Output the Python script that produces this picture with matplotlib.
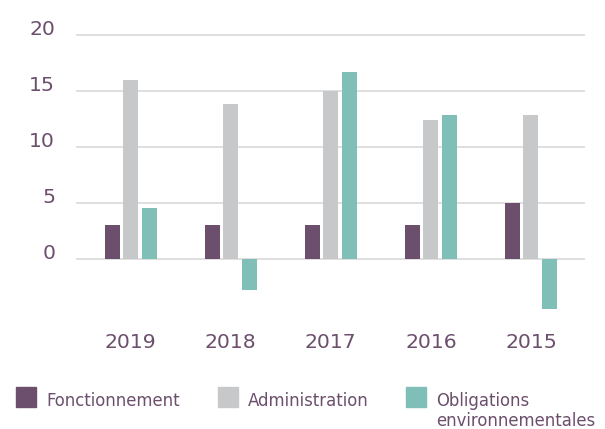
import numpy as np
import matplotlib.pyplot as plt
from matplotlib.patches import Rectangle

plt.rcParams['font.family'] = ['DejaVu Sans']

# data
years = ['2019', '2018', '2017', '2016', '2015']
fonctionnement = [3, 3, 3, 3, 5]
administration = [16, 13.8, 15, 12.4, 12.8]
obligations = [4.5, -2.8, 16.7, 12.8, -4.5]

series_names = ['Fonctionnement', 'Administration', 'Obligations\nenvironnementales']
colors = ['#6b4f6c', '#c7c8ca', '#80bfb7']
text_color = '#6b4f6c'

W, H = 605, 429
fig = plt.figure(figsize=(W / 100, H / 100), dpi=100)
ax = fig.add_axes([76 / W, 1 - 314.7 / H, (585 - 76) / W, (314.7 - 29.1) / H])

x = np.arange(len(years))
width = 0.15
offset = 0.185
for i, (vals, c) in enumerate(zip([fonctionnement, administration, obligations], colors)):
    ax.bar(x + (i - 1) * offset, vals, width, color=c, zorder=3)

ax.set_xlim(-0.545, 4.54)
ax.set_ylim(-5, 20.5)

# gridlines
for y in [0, 5, 10, 15, 20]:
    ax.axhline(y, color='#d9d9d9', lw=1.2, zorder=1)

ax.set_yticks([0, 5, 10, 15, 20])
ax.set_yticklabels(['0', '5', '10', '15', '20'])
for lab in ax.get_yticklabels():
    lab.set_verticalalignment('baseline')
ax.tick_params(axis='y', length=0, pad=15, labelsize=14.7, labelcolor=text_color)

ax.set_xticks(x)
ax.set_xticklabels(years)
ax.tick_params(axis='x', length=0, pad=13, labelsize=14.7, labelcolor=text_color)

for s in ax.spines.values():
    s.set_visible(False)

# legend drawn manually
legend_x = [16, 218, 406]
for lx, name, c in zip(legend_x, series_names, colors):
    fig.add_artist(Rectangle((lx / W, 1 - 407 / H), 20 / W, 20 / H,
                             transform=fig.transFigure, color=c))
    for k, line in enumerate(name.split('\n')):
        fig.text((lx + 30) / W, 1 - (406 + 20 * k) / H, line, color=text_color,
                 fontsize=11.9, va='baseline', ha='left')

fig.savefig('out.png', dpi=100)
